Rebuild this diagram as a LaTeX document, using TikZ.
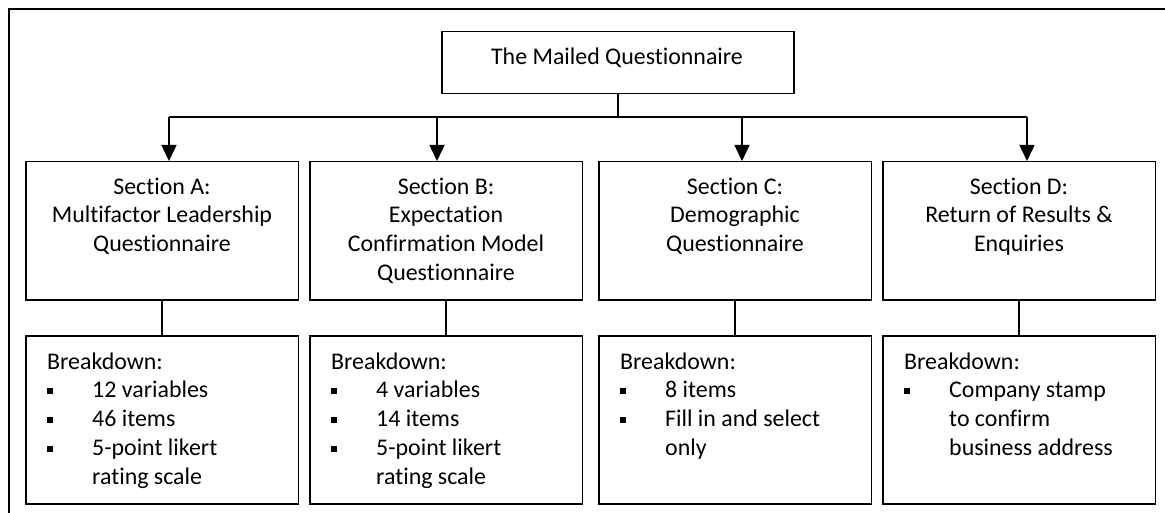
\documentclass[tikz,border=0pt]{standalone}
\usepackage{fontspec}
\setmainfont{Carlito}[Ligatures=NoCommon]
\usetikzlibrary{arrows.meta}
\newcommand{\bitem}{\makebox[45pt][l]{\raisebox{3.5pt}{\rule{6pt}{6pt}}}}
\newcommand{\bcont}{\makebox[45pt]{}}
\newcommand{\fst}{\rule{0pt}{18pt}}
\begin{document}
\begin{tikzpicture}[x=1pt,y=-1pt,
  box/.style={draw, line width=1.5pt, minimum width=272.5pt, minimum height=138pt, anchor=north west, inner sep=0pt},
  bdbox/.style={draw, line width=1.5pt, minimum width=272.5pt, minimum height=168pt, anchor=north west, inner sep=0pt},
  topbox/.style={draw, line width=1.5pt, minimum width=352pt, minimum height=62pt, anchor=north west, inner sep=0pt},
  txt/.style={font=\fontsize{23.9pt}{28.7pt}\selectfont, inner sep=0pt, align=center, anchor=north},
  ltxt/.style={font=\fontsize{23.9pt}{28.7pt}\selectfont, inner sep=0pt, align=left, anchor=north west},
  conn/.style={line width=1.5pt},
  arr/.style={line width=1.5pt, -{Triangle[width=15pt,length=16pt]}},
  frame/.style={line width=2pt}]
\useasboundingbox (0,0) rectangle (1165,513);
% outer frame
\draw[frame] (9,514) -- (9,9) -- (1166,9);
% top
\node[topbox] (top) at (441,31) {};
\node[txt] (toptxt) at (617,46) {\fst The Mailed Questionnaire};
% sections
\node[box] (A) at (25,161) {};
\node[box] (B) at (309,161) {};
\node[box] (C) at (598,161) {};
\node[box] (D) at (882,161) {};
\node[txt] (At) at (A.north) [yshift=-15pt] {\fst Section A:\\Multifactor Leadership\\Questionnaire};
\node[txt] (Bt) at (B.north) [yshift=-15pt] {\fst Section B:\\Expectation\\Confirmation Model\\Questionnaire};
\node[txt] (Ct) at (C.north) [yshift=-15pt] {\fst Section C:\\Demographic\\Questionnaire};
\node[txt] (Dt) at (D.north) [yshift=-15pt] {\fst Section D:\\Return of Results \&\\Enquiries};
% breakdowns
\node[bdbox] (Ab) at (25,335) {};
\node[bdbox] (Bb) at (309,335) {};
\node[bdbox] (Cb) at (598,335) {};
\node[bdbox] (Db) at (882,335) {};
\node[ltxt] (Abt) at (Ab.north west) [xshift=22pt, yshift=-16pt] {\fst Breakdown:\\\bitem 12 variables\\\bitem 46 items\\\bitem 5-point likert\\\bcont rating scale};
\node[ltxt] (Bbt) at (Bb.north west) [xshift=22pt, yshift=-16pt] {\fst Breakdown:\\\bitem 4 variables\\\bitem 14 items\\\bitem 5-point likert\\\bcont rating scale};
\node[ltxt] (Cbt) at (Cb.north west) [xshift=22pt, yshift=-16pt] {\fst Breakdown:\\\bitem 8 items\\\bitem Fill in and select\\\bcont only};
\node[ltxt] (Dbt) at (Db.north west) [xshift=22pt, yshift=-16pt] {\fst Breakdown:\\\bitem Company stamp\\\bcont to confirm\\\bcont business address};
% connectors
\coordinate (jA) at (169,117);
\coordinate (jB) at (437,117);
\coordinate (jC) at (742,117);
\coordinate (jD) at (1027,117);
\draw[conn] (top.south) -- (top.south |- jA);
\draw[conn] (jA) -- (jD);
\draw[arr] (jA) -- (jA |- A.north);
\draw[arr] (jB) -- (jB |- B.north);
\draw[arr] (jC) -- (jC |- C.north);
\draw[arr] (jD) -- (jD |- D.north);
\draw[conn] (A.south) -- (Ab.north);
\draw[conn] (B.south) -- (Bb.north);
\draw[conn] (C.south) -- (Cb.north);
\draw[conn] (D.south) -- (Db.north);
\end{tikzpicture}
\end{document}
